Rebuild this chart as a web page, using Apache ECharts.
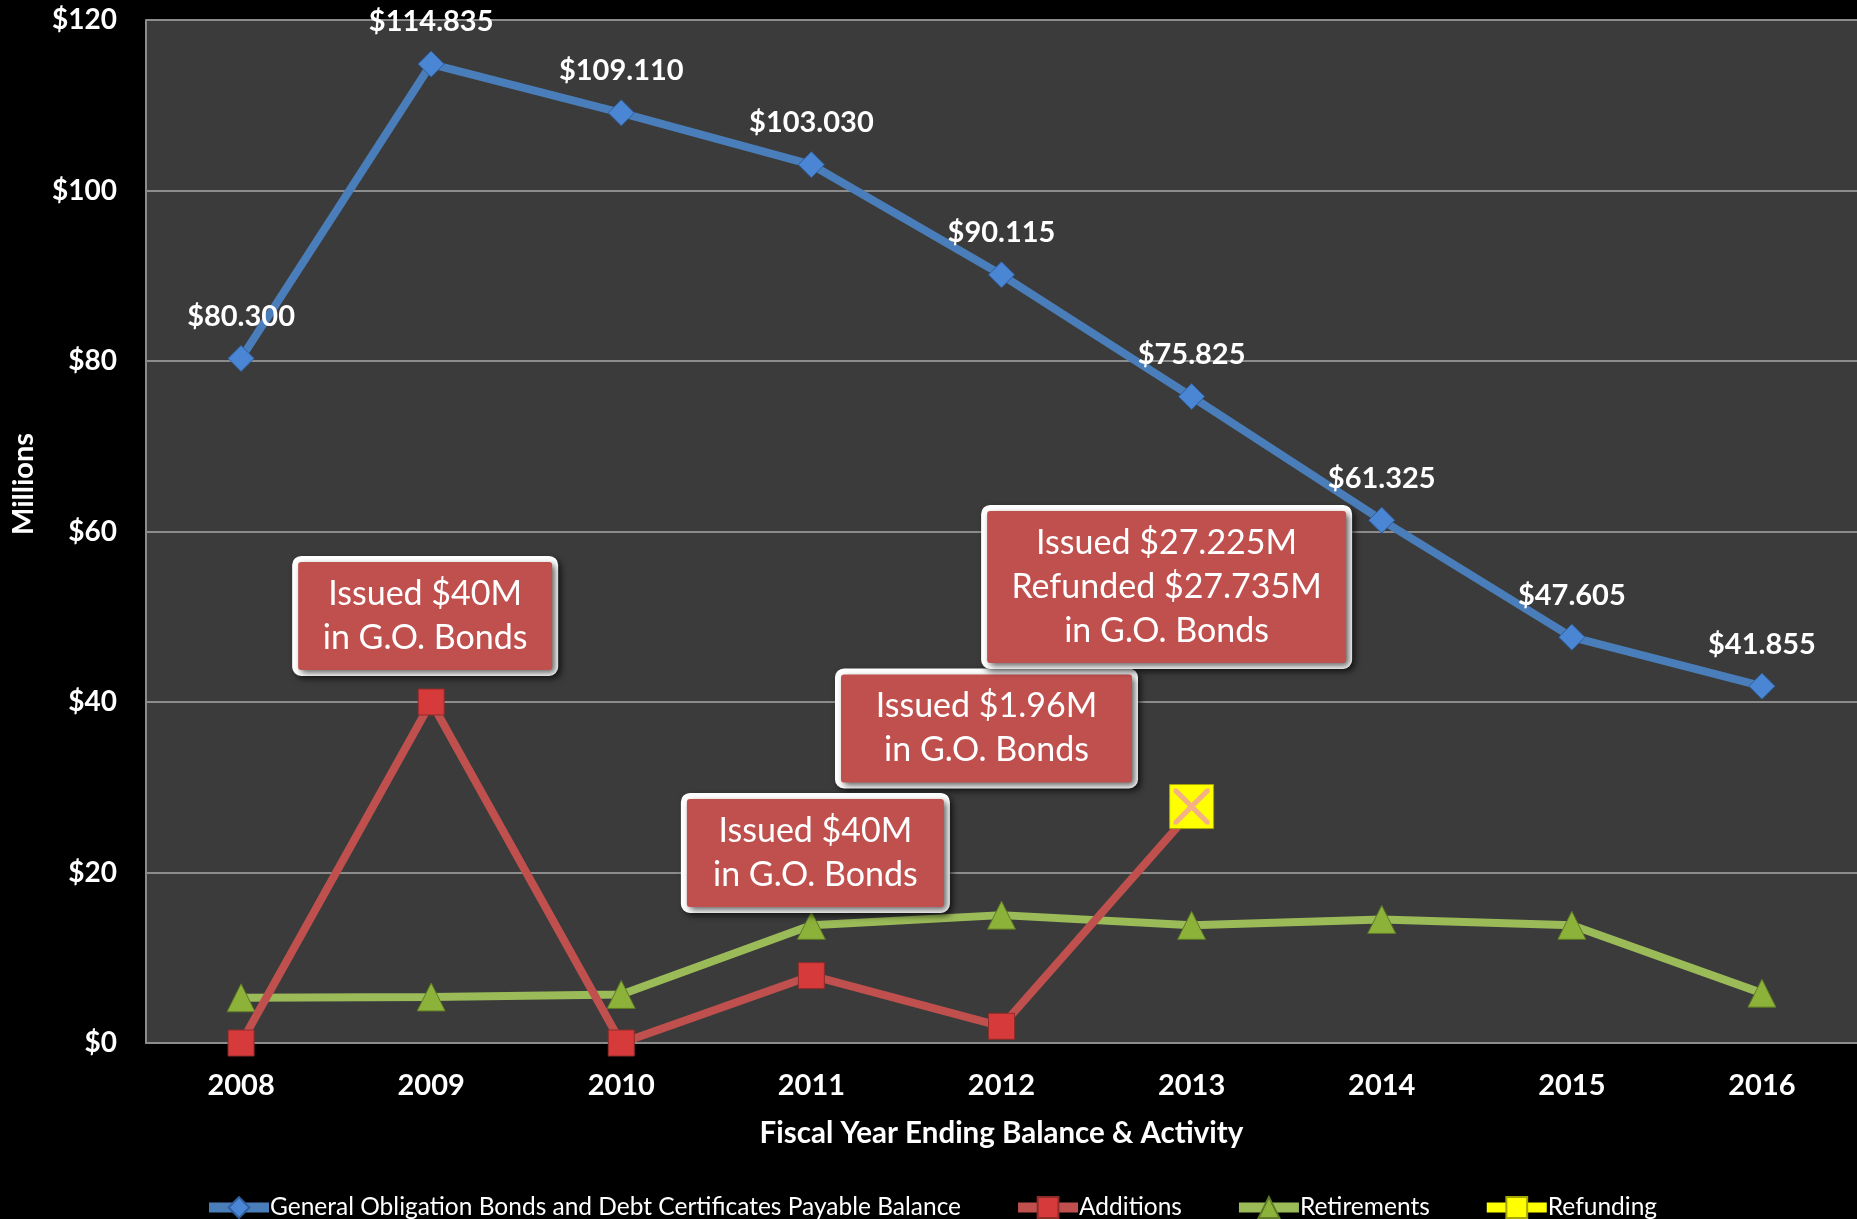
<!DOCTYPE html>
<html>
<head>
<meta charset="utf-8">
<script src="https://cdn.jsdelivr.net/npm/echarts@6/dist/echarts.min.js"></script>
<style>
html,body{margin:0;padding:0;background:#000;}
#chart{width:1857px;height:1219px;}
</style>
</head>
<body>
<div id="chart"></div>
<script>
const years = ['2008','2009','2010','2011','2012','2013','2014','2015','2016'];
const balance = [80.300, 114.835, 109.110, 103.030, 90.115, 75.825, 61.325, 47.605, 41.855];
const additions = [0, 40, 0, 7.9, 1.96, 27.225, null, null, null];
const retirements = [5.3, 5.4, 5.7, 13.8, 15.0, 13.8, 14.5, 13.8, 5.85];
const refunding = [null, null, null, null, null, 27.735, null, null, null];
const yTicks = [0, 20, 40, 60, 80, 100, 120];
const seriesNames = ['General Obligation Bonds and Debt Certificates Payable Balance', 'Additions', 'Retirements', 'Refunding'];
const notes = [
  {year: '2009', value: 50.1, text: 'Issued $40M\nin G.O. Bonds'},
  {year: '2012', value: 36.9, text: 'Issued $1.96M\nin G.O. Bonds'},
  {year: '2011', value: 22.3, text: 'Issued $40M\nin G.O. Bonds'},
  {year: '2013', value: 53.5, text: 'Issued $27.225M\nRefunded $27.735M\nin G.O. Bonds'}
];
const noteStyle = [
  {dx: -6, w: 254},
  {dx: -15, w: 291},
  {dx: 4, w: 257},
  {dx: -25, w: 359}
];

const FONT = 'Lato, "Open Sans", sans-serif';
const chart = echarts.init(document.getElementById('chart'));

const notePoints = notes.map((n, i) => ({
  coord: [n.year, n.value],
  symbol: 'rect',
  symbolSize: 1,
  itemStyle: {color: 'rgba(0,0,0,0)'},
  label: {
    show: true,
    position: 'inside',
    offset: [noteStyle[i].dx, 0],
    formatter: n.text,
    width: noteStyle[i].w,
    align: 'center',
    verticalAlign: 'middle',
    color: '#fff',
    fontFamily: FONT,
    fontSize: 34,
    lineHeight: 44,
    padding: [10, 0],
    backgroundColor: '#C0504D',
    borderColor: '#ffffff',
    borderWidth: 6,
    borderRadius: 3,
    shadowColor: 'rgba(0,0,0,0.6)',
    shadowBlur: 6,
    shadowOffsetX: 3,
    shadowOffsetY: 3
  }
}));

const refundIdx = refunding.findIndex(v => v != null);

chart.setOption({
  backgroundColor: '#000000',
  animation: false,
  grid: {
    left: 146, right: 0, top: 20, bottom: 176,
    show: true, backgroundColor: '#3B3B3B', borderWidth: 0
  },
  legend: {
    data: seriesNames,
    left: 199, top: 1190,
    itemWidth: 60, itemHeight: 26, itemGap: 52,
    lineStyle: {width: 10},
    textStyle: {color: '#fff', fontSize: 24.5, fontFamily: FONT, padding: [0, 0, 0, -4]}
  },
  xAxis: {
    type: 'category',
    data: years,
    boundaryGap: true,
    axisLine: {show: true, lineStyle: {color: '#8c8c8c', width: 2}},
    axisTick: {show: false},
    axisLabel: {color: '#fff', fontWeight: 'bold', fontSize: 29, fontFamily: FONT, margin: 28},
    name: 'Fiscal Year Ending Balance & Activity',
    nameLocation: 'middle',
    nameGap: 75,
    nameTextStyle: {color: '#fff', fontWeight: 'bold', fontSize: 29.5, fontFamily: FONT}
  },
  yAxis: {
    type: 'value',
    min: yTicks[0], max: yTicks[yTicks.length - 1], interval: yTicks[1] - yTicks[0],
    axisLine: {show: true, lineStyle: {color: '#8c8c8c', width: 2}},
    axisTick: {show: false},
    splitLine: {show: true, lineStyle: {color: '#8c8c8c', width: 2}},
    axisLabel: {color: '#fff', fontWeight: 'bold', fontSize: 28, fontFamily: FONT, margin: 29,
      formatter: v => '$' + v}
  },
  graphic: [{
    type: 'text', x: 24, y: 484, rotation: Math.PI / 2,
    style: {text: 'Millions', fill: '#fff', font: 'bold 29px ' + FONT, align: 'center', verticalAlign: 'middle'}
  }],
  series: [
    {
      name: seriesNames[0], type: 'line', data: balance, z: 3,
      symbol: 'diamond', symbolSize: 26,
      lineStyle: {color: '#4A7EBB', width: 8},
      itemStyle: {color: '#4A86D4', borderColor: '#2F5F9E', borderWidth: 1},
      label: {show: true, position: 'top', distance: 14, color: '#fff', fontWeight: 'bold',
        fontSize: 29, fontFamily: FONT, formatter: p => '$' + p.value.toFixed(3)}
    },
    {
      name: seriesNames[1], type: 'line', data: additions, z: 4,
      symbol: 'rect', symbolSize: 26,
      lineStyle: {color: '#C0504D', width: 8},
      itemStyle: {color: '#D63A3A', borderColor: '#8E2C2A', borderWidth: 1}
    },
    {
      name: seriesNames[2], type: 'line', data: retirements, z: 3,
      symbol: 'triangle', symbolSize: 28,
      lineStyle: {color: '#9BBB59', width: 8},
      itemStyle: {color: '#8DB23A', borderColor: '#5E7A26', borderWidth: 1}
    },
    {
      name: seriesNames[3], type: 'line', data: refunding, z: 5,
      symbol: 'rect', symbolSize: 44,
      lineStyle: {color: '#FFFF00', width: 8},
      itemStyle: {color: '#FFFF00', borderColor: '#A6A600', borderWidth: 1},
      markPoint: {
        z: 10,
        data: [{
          coord: [years[refundIdx], refunding[refundIdx]],
          symbol: 'path://M0,0 L2,0 L10,8 L18,0 L20,0 L20,2 L12,10 L20,18 L20,20 L18,20 L10,12 L2,20 L0,20 L0,18 L8,10 L0,2 Z',
          symbolSize: 36,
          itemStyle: {color: '#F4B183'},
          label: {show: false}
        }].concat(notePoints)
      }
    }
  ]
});
</script>
</body>
</html>
